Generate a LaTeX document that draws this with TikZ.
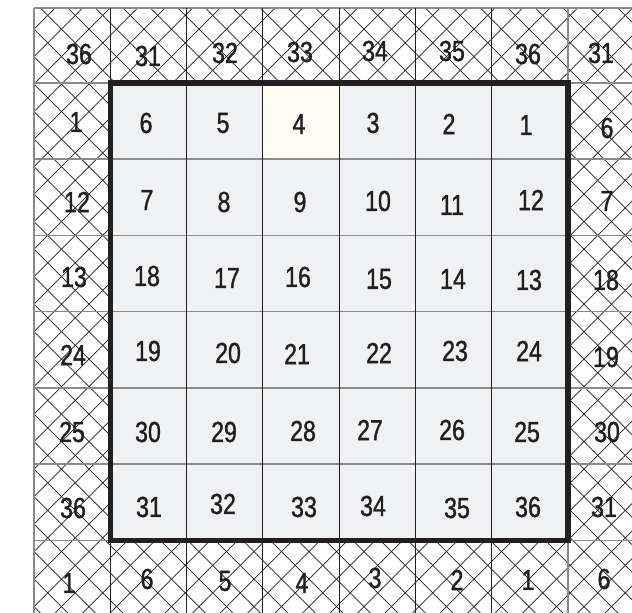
\documentclass[tikz,border=0pt]{standalone}
\usepackage{fontspec}
\setmainfont{Liberation Sans}[FakeStretch=0.8,FakeBold=1.2]
\usetikzlibrary{calc}
\definecolor{cInk}  {HTML}{231F20}
\definecolor{cCell} {HTML}{F0F1F3}
\definecolor{cHigh} {HTML}{FFFDF3}
\definecolor{cRule} {HTML}{8A8A8A}

\begin{document}
\begin{tikzpicture}[
  x=1pt, y=-1pt,
  num/.style={font=\fontsize{29}{34}\selectfont, text=cInk, inner sep=0pt},
  hatch/.style={draw=cInk, line width=0.75pt},
  hrule/.style={draw=cRule, line width=1.6pt},
  vrule/.style={draw=cInk, line width=0.9pt},
  frame/.style={draw=cInk, line width=5.6pt},
]
\useasboundingbox (0,0) rectangle (632,613);

% ---------------------------------------------------------------- hatched border
\begin{scope}
  \clip (34,8) rectangle (632,613);
  \foreach \k in {0,...,45}
    \draw[hatch] ({8.2+27.5*\k},0) -- ++(-700,700);
  \foreach \k in {-26,...,23}
    \draw[hatch] ({4.8+27.5*\k},0) -- ++(700,700);
\end{scope}

% ---------------------------------------------------------------- inner cells
\fill[cCell] (110.5,83) rectangle (567.7,540.3);
\fill[cHigh] (262.9,83) rectangle (339.1,159.2);

% ---------------------------------------------------------------- grid
\foreach \y in {8,83,159.2,235.4,311.6,387.8,464,540.3}
  \draw[hrule] (34,\y) -- (632,\y);
\draw[hrule] (34,8) -- (34,613);
\foreach \x in {110.5,186.7,262.9,339.1,415.3,491.5}
  \draw[vrule] (\x,8) -- (\x,613);
\draw[hrule] (567.7,8) -- (567.7,613);
\draw[frame] (110.5,83) rectangle (567.7,540.3);

% ---------------------------------------------------------------- numbers
\foreach \n/\x/\y [count=\c] in {36/79/54, 31/148/56, 32/225/53, 33/300/52,
    34/375/51, 35/452/51, 36/528/54, 31/601/53}
  \node[num] (n0-\c) at (\x,\y) {\n};
\foreach \n/\x/\y [count=\c] in {1/76/122, 6/146/123, 5/223/123, 4/299/124,
    3/373/123, 2/449/124, 1/526/125, 6/607/128}
  \node[num] (n1-\c) at (\x,\y) {\n};
\foreach \n/\x/\y [count=\c] in {12/77/202, 7/147/200, 8/224/202, 9/300/202,
    10/378/201, 11/452/205, 12/531/200, 7/607/201}
  \node[num] (n2-\c) at (\x,\y) {\n};
\foreach \n/\x/\y [count=\c] in {13/74/277, 18/147/276, 17/227/278, 16/298/277,
    15/379/279, 14/453/279, 13/529/280, 18/606/280}
  \node[num] (n3-\c) at (\x,\y) {\n};
\foreach \n/\x/\y [count=\c] in {24/73/355, 19/148/351, 20/228/353, 21/297/354,
    22/379/353, 23/455/351, 24/529/351, 19/606/357}
  \node[num] (n4-\c) at (\x,\y) {\n};
\foreach \n/\x/\y [count=\c] in {25/72/432, 30/148/432, 29/224/432, 28/303/431,
    27/370/430, 26/452/430, 25/527/432, 30/607/432}
  \node[num] (n5-\c) at (\x,\y) {\n};
\foreach \n/\x/\y [count=\c] in {36/73/508, 31/149/507, 32/223/504, 33/304/507,
    34/373/506, 35/457/508, 36/528/507, 31/604/507}
  \node[num] (n6-\c) at (\x,\y) {\n};
\foreach \n/\x/\y [count=\c] in {1/69/583, 6/147/579, 5/225/581, 4/302/583,
    3/375/578, 2/457/580, 1/528/580, 6/604/579}
  \node[num] (n7-\c) at (\x,\y) {\n};

\end{tikzpicture}
\end{document}
